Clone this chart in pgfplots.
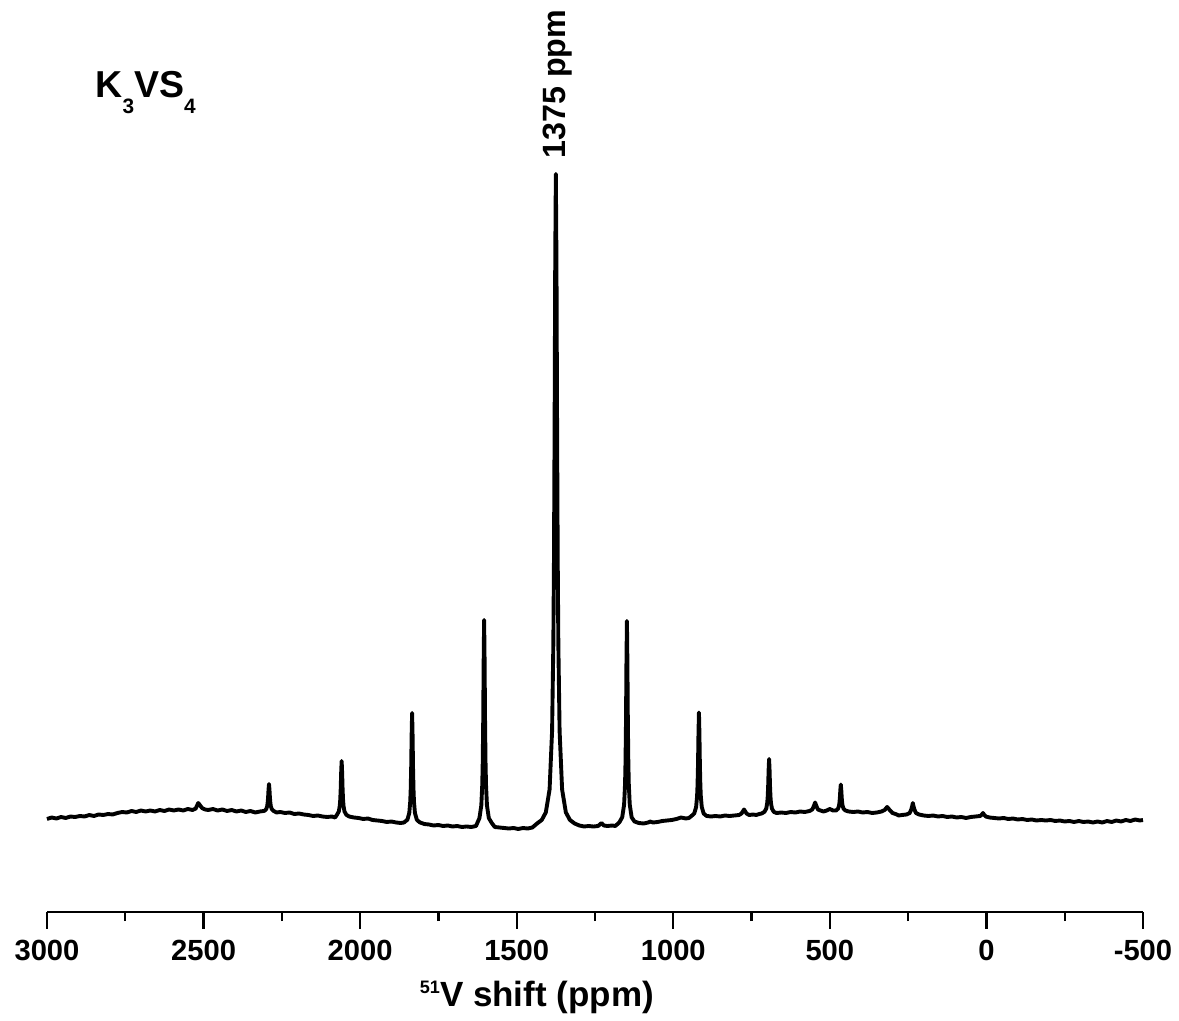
\documentclass[border=0pt]{standalone}
\usepackage{pgfplots}
\pgfplotsset{compat=1.18}
\usepackage{fontspec}
\setmainfont{Liberation Sans}
\begin{document}
\begin{tikzpicture}
\begin{axis}[
  scale only axis, width=394.56pt, height=328.32pt,
  xmin=-500, xmax=3000, ymin=0, ymax=912, x dir=reverse,
  axis x line*=bottom, axis y line=none,
  xtick={-500,0,...,3000}, minor xtick={-250,250,...,2750},
  tick align=outside, major tick length=6.1pt, minor tick length=3.3pt,
  every tick/.style={line width=0.85pt, black},
  every minor tick/.style={line width=0.85pt, black},
  axis line style={line width=0.85pt, black, -},
  /pgf/number format/assume math mode=true, /pgf/number format/1000 sep={},
  xticklabel style={font=\bfseries\fontsize{10.5}{12}\selectfont, yshift=-0.6pt},
  clip=false,
]
\addplot[black, line width=1.4pt, line join=round] coordinates {
(3000,93) (2985,94.5) (2970,93.5) (2955,95) (2940,94) (2925,95.5) (2910,95) (2895,96) (2880,95.5) (2865,97)
(2850,96) (2835,97.5) (2820,97) (2805,98) (2790,97.5) (2775,99) (2760,100) (2745,99.5) (2730,101) (2715,100)
(2700,101.5) (2685,100.5) (2670,101.5) (2655,100.5) (2640,102) (2625,101) (2610,102.5) (2595,101.5) (2580,102.5) (2565,101.5)
(2550,103) (2535,102) (2525,103.5) (2517,109) (2512,107) (2505,104) (2495,102.5) (2485,102) (2470,103) (2455,101.5)
(2440,102.5) (2425,101) (2410,102) (2395,100.5) (2380,101.5) (2365,100) (2350,101) (2335,99.5) (2320,100.5) (2306,101.1)
(2300,102.8) (2297,105.6) (2295.5,108.6) (2294,114) (2292.5,122.4) (2291,128) (2289.5,122.4) (2288,114) (2286.5,108.6) (2285,105.6)
(2282,102.8) (2276,101) (2267,99.5) (2255,100) (2240,99) (2225,99.5) (2210,98) (2195,98.5) (2180,97.5) (2165,97)
(2150,96) (2135,96.5) (2120,95.5) (2105,95) (2090,95.5) (2080,94.5) (2074,97.2) (2068,100.6) (2065,106.2) (2063.5,112.2)
(2062,123) (2060.5,139.8) (2059,151) (2057.5,139.8) (2056,123) (2054.5,112.2) (2053,106.2) (2050,100.6) (2044,97.2) (2035,95.5)
(2020,94.5) (2005,94) (1990,93) (1975,93.5) (1960,92) (1945,91.5) (1930,91) (1915,90) (1900,90.5) (1885,89.5)
(1870,89) (1860,89.5) (1849,92.3) (1843,99.1) (1840,110.2) (1838.5,122.2) (1837,143.5) (1835.5,176.8) (1834,199) (1832.5,176.8)
(1831,143.5) (1829.5,122.2) (1828,110.2) (1825,99.1) (1819,92.3) (1810,89.7) (1795,88) (1780,87.5) (1765,86.5) (1750,87)
(1735,86) (1720,86.5) (1705,85.5) (1690,86) (1675,85) (1660,85.5) (1645,85) (1630,86) (1619,93.9) (1613,106.6)
(1610,127.2) (1608.5,149.4) (1607,189) (1605.5,250.8) (1604,292) (1602.5,250.8) (1601,189) (1599.5,149.4) (1598,127.2) (1595,106.6)
(1589,93.9) (1580,89.2) (1570,85) (1555,84.5) (1540,84) (1525,83.5) (1510,84) (1495,83) (1480,84) (1465,83.5)
(1450,84.5) (1435,88.5) (1420,92) (1407,99.6) (1395,122.5) (1387,181) (1383,268) (1381,352) (1379,483) (1377,648)
(1375,738) (1373,648) (1371,483) (1369,352) (1367,268) (1363,181) (1355,122.5) (1343,99.6) (1330,92) (1315,88.5)
(1300,86.5) (1285,85.5) (1270,86) (1255,85.5) (1240,86) (1229,89) (1222,86.5) (1210,86) (1195,86.5) (1185,86)
(1172,89.7) (1163,94.8) (1157,107.4) (1154,127.8) (1152.5,149.8) (1151,189) (1149.5,250.2) (1148,291) (1146.5,250.2) (1145,189)
(1143.5,149.8) (1142,127.8) (1139,107.4) (1133,94.8) (1124,90.5) (1110,89) (1095,88.5) (1080,89.5) (1074,90.5) (1065,89.5)
(1050,90) (1035,91) (1020,91.5) (1005,92) (990,93) (975,94.5) (960,93.5) (950,94) (942,96) (933,98.5)
(927,105) (924,115.5) (922.5,126.8) (921,147) (919.5,178.5) (918,199.5) (916.5,178.5) (915,147) (913.5,126.8) (912,115.5)
(909,105) (903,98.5) (894,96.1) (880,95.5) (865,96) (850,95.5) (835,96.5) (820,96) (805,96.5) (790,97)
(782,98.5) (778,100.5) (774,102.5) (770,100.5) (766,98.5) (758,97) (745,97.5) (735,97) (725,98) (718,98.5)
(709,100.1) (703,103.5) (700,109) (698.5,114.9) (697,125.5) (695.5,142) (694,153) (692.5,142) (691,125.5) (689.5,114.9)
(688,109) (685,103.5) (679,100.1) (670,99) (655,99.5) (640,99) (625,100) (610,99.5) (595,100.5) (580,100)
(565,101) (556,102.5) (551,106) (547,109.5) (543,106) (538,102.5) (530,101.5) (520,100.5) (510,101.5) (500,103)
(490,101.5) (480,101.5) (474,103.2) (471,105.9) (469.5,108.8) (468,114) (466.5,122.1) (465,127.5) (463.5,122.1) (462,114)
(460.5,108.8) (459,105.9) (456,103.2) (450,101.5) (440,100.5) (425,100) (410,100.5) (395,99.5) (380,100) (365,99)
(350,99.5) (335,100.5) (325,102) (317,105) (309,102) (300,99) (290,98) (280,96.5) (270,97) (255,97.5)
(245,99) (240,102.5) (237,106) (235,109) (233,106) (230,102.5) (225,99) (215,97.5) (200,96.5) (185,96)
(170,96.5) (155,95.5) (140,96) (125,95) (110,95.5) (95,94.5) (80,95) (65,94) (50,95) (35,95.5)
(20,96) (14,97.5) (11,99) (8,97.5) (2,95.5) (-10,94.5) (-25,94) (-40,93.5) (-55,94) (-70,93)
(-85,93.5) (-100,92.5) (-115,93) (-130,92) (-145,92.5) (-160,91.5) (-175,92) (-190,91.5) (-205,92) (-220,91)
(-235,91.5) (-250,90.5) (-265,91) (-280,90) (-295,91) (-310,90) (-325,90.5) (-340,89.5) (-355,90.5) (-370,89.5)
(-385,91) (-400,90) (-415,91.5) (-430,90.5) (-445,92) (-460,91) (-475,92.5) (-490,91.5) (-500,92)
};
\node[anchor=base west, inner sep=0pt] at (rel axis cs:0.0438,0.8936)
  {\bfseries\fontsize{13.5}{16}\selectfont K\raisebox{-5.8pt}{\fontsize{7.5}{9}\selectfont 3}VS\raisebox{-5.8pt}{\fontsize{7.5}{9}\selectfont 4}};
\node[rotate=90, anchor=west, inner sep=0pt] at (axis cs:1368,753)
  {\bfseries\fontsize{11.6}{14}\selectfont 1375 ppm};
\node[anchor=base, inner sep=0pt] at (rel axis cs:0.447,-0.1038)
  {\bfseries\fontsize{12.6}{15}\selectfont\raisebox{4.6pt}{\fontsize{6.5}{8}\selectfont 51}V shift (ppm)};
\coordinate (bl) at (rel axis cs:-0.04288,-0.1195);
\coordinate (tr) at (rel axis cs:1.03285,1);
\end{axis}
\pgfresetboundingbox
\path[use as bounding box] (bl) rectangle (tr);
\end{tikzpicture}
\end{document}
